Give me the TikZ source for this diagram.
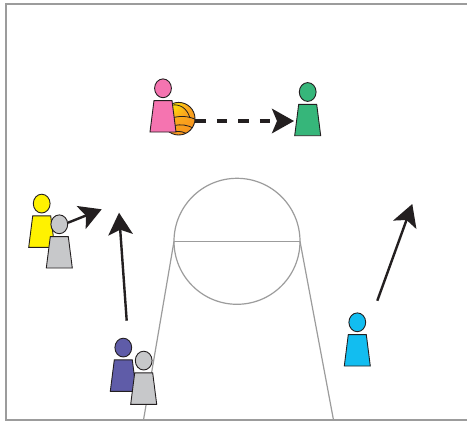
\documentclass[tikz,border=0pt]{standalone}
\usetikzlibrary{arrows.meta,shadings}
\definecolor{cPink}{HTML}{F574B0}
\definecolor{cGreen}{HTML}{36B67A}
\definecolor{cYellow}{HTML}{FFF200}
\definecolor{cGray}{HTML}{C7C8CA}
\definecolor{cPurple}{HTML}{5F5CA8}
\definecolor{cCyan}{HTML}{12BDF0}
\definecolor{cInk}{HTML}{231F20}
\definecolor{cCourt}{HTML}{9C9C9C}
\definecolor{cBallIn}{HTML}{FFF200}
\definecolor{cBallMid}{HTML}{FBA91C}
\definecolor{cBallOut}{HTML}{F58220}
\pgfdeclareradialshading{ballshade}{\pgfpoint{-20bp}{36bp}}{
  color(0bp)=(cBallIn); color(8bp)=(cBallIn); color(28bp)=(cBallMid);
  color(62bp)=(cBallOut); color(100bp)=(cBallOut)}
\tikzset{
  court/.style={draw=cCourt,line width=1.2pt},
  outline/.style={draw=cInk,line width=.9pt,line join=miter},
  seam/.style={draw=cInk,line width=.8pt},
  move/.style={draw=cInk,line width=2.4pt,-{Stealth[length=22pt,width=24.5pt,inset=5pt]}},
  pics/person/.style={code={
    \draw[outline,fill=#1] (0,0.3) ellipse [x radius=8.4,y radius=9.4];
    \draw[outline,fill=#1] (-9,12.6) -- (9,12.6) -- (13,44) -- (-13,44) -- cycle;
  }}
}
\begin{document}
\begin{tikzpicture}[x=1pt,y=-1pt]
\useasboundingbox (0,0) rectangle (467,421);
\begin{scope}
\clip (0,0) rectangle (467,421);
\fill[white] (0,0) rectangle (467,421);
% court
\draw[court,line width=1.5pt] (467.5,4) -- (6,4) -- (6,420) -- (467.5,420);
\coordinate (laneL) at (174,241.3);
\coordinate (laneR) at (300,241.3);
\coordinate (baseL) at (143.5,420);
\coordinate (baseR) at (333.5,420);
\draw[court] (237,241.3) circle (63);
\draw[court] (laneL) -- (laneR);
\draw[court] (laneL) -- (baseL);
\draw[court] (laneR) -- (baseR);
% ball
\node[circle,minimum size=32.6pt,inner sep=0pt,outline,shading=ballshade] (ball) at (178.7,118.7) {};
\begin{scope}
\clip (178.7,118.7) circle (16.3);
\draw[seam] (172,105) .. controls (180,104) and (187,108) .. (190,118);
\draw[seam] (172,118) .. controls (180,115.5) and (188,116) .. (196,119.5);
\draw[seam] (174,125.5) .. controls (181,124) and (188,125) .. (194,128.5);
\draw[seam] (175,131.5) .. controls (180,131) and (185,132) .. (188,135);
\end{scope}
% players
\coordinate (pPink) at (163,88);
\coordinate (pGreen) at (307.7,91.7);
\coordinate (pYellow) at (41.7,203.3);
\coordinate (pGrayA) at (59.3,224);
\coordinate (pPurple) at (123.3,347.3);
\coordinate (pGrayB) at (143.7,360.3);
\coordinate (pCyan) at (357.3,322);
\pic at (pPink) {person=cPink};
\pic at (pGreen) {person=cGreen};
\pic at (pYellow) {person=cYellow};
\pic at (pGrayA) {person=cGray};
\pic at (pPurple) {person=cPurple};
\pic at (pGrayB) {person=cGray};
\pic at (pCyan) {person=cCyan};
% moves
\coordinate (passEnd) at (294,121);
\coordinate (aStart) at (68,222.7);
\coordinate (aEnd) at (101.7,209.3);
\coordinate (bStart) at (126.7,320.7);
\coordinate (bEnd) at (119,212.7);
\coordinate (cStart) at (377.3,300.7);
\coordinate (cEnd) at (412.3,204);
\draw[move,line width=3.2pt,dash pattern=on 10.5pt off 11pt] (ball.east |- passEnd) -- (passEnd);
\draw[move] (aStart) -- (aEnd);
\draw[move] (bStart) -- (bEnd);
\draw[move] (cStart) -- (cEnd);
\end{scope}
\end{tikzpicture}
\end{document}
